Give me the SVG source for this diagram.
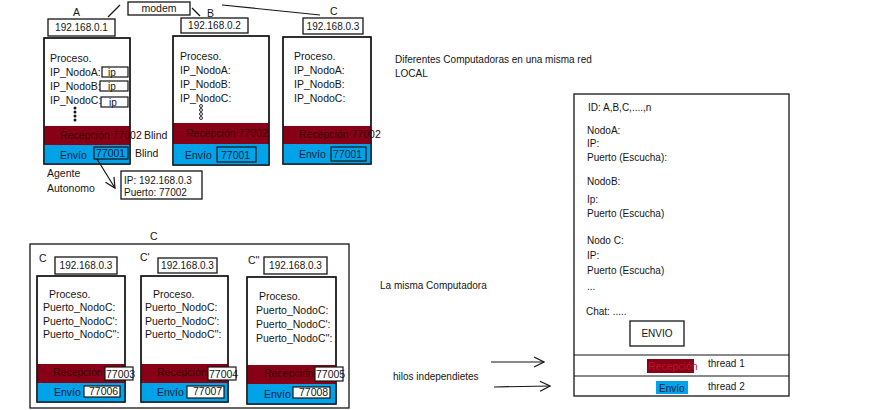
<svg xmlns="http://www.w3.org/2000/svg" width="875" height="410" viewBox="0 0 875 410">
<defs>
<style>
text{font-family:"Liberation Sans",Arial,sans-serif;font-size:10.5px;fill:#151515}
.box{fill:#fff;stroke:#151515;stroke-width:1.3}
.frame{fill:none;stroke:#151515;stroke-width:1.3}
.red{fill:#880015}
.blue{fill:#00A2E8}
.rt{fill:#3a0008}
.bt{fill:#0d2240}
.ip{font-size:10px}
.sm{font-size:10px}
.ln{stroke:#151515;stroke-width:1.2;fill:none}
.pb{fill:none;stroke:#151515;stroke-width:1.2}
.pw{fill:#fff;stroke:#151515;stroke-width:1.2}
</style>
<marker id="v" viewBox="0 0 12 12" refX="11" refY="6" markerWidth="12" markerHeight="12" markerUnits="userSpaceOnUse" orient="auto"><path d="M1,1 L11,6 L1,11" fill="none" stroke="#151515" stroke-width="1.2"/></marker>
</defs>
<rect width="875" height="410" fill="#fff"/>

<g id="modem">
<rect class="box" x="128" y="2" width="62" height="13"/>
<text x="159" y="12" text-anchor="middle" font-size="11">modem</text>
</g>

<g id="nodeA">
<text x="73" y="16">A</text>
<rect class="box" x="48" y="19" width="67" height="17"/>
<text class="ip" x="81.5" y="31" text-anchor="middle">192.168.0.1</text>
<rect class="box" x="44" y="38" width="86" height="126"/>
<rect class="red" x="44" y="126" width="86" height="19"/>
<rect class="blue" x="44" y="145" width="86" height="19"/>
<rect class="frame" x="44" y="38" width="86" height="126"/>
<text x="50" y="62">Proceso.</text>
<text x="50" y="76" font-size="10.2">IP_NodoA:</text>
<text x="50" y="90" font-size="10.2">IP_NodoB:</text>
<text x="50" y="104" font-size="10.2">IP_NodoC:</text>
<rect class="pb" x="102" y="67" width="26" height="10"/>
<text x="108" y="76" class="sm">ip</text>
<rect class="pb" x="100" y="81" width="28" height="10"/>
<text x="108" y="90" class="sm">ip</text>
<rect class="pb" x="101" y="97" width="27" height="10"/>
<text x="109" y="106" class="sm">ip</text>
<circle cx="75" cy="108" r="1.5" fill="#151515"/>
<circle cx="75" cy="112" r="1.5" fill="#151515"/>
<circle cx="75" cy="116" r="1.5" fill="#151515"/>
<circle cx="75" cy="120" r="1.5" fill="#151515"/>
<text class="rt" x="60" y="139" font-size="9.7">Recepción 77002</text>
<text x="144" y="139">Blind</text>
<text class="bt" x="60" y="159">Envío</text>
<rect class="pb" x="94" y="147" width="34" height="12"/>
<text class="bt" x="96" y="157" font-size="10">77001</text>
<text x="135" y="157">Blind</text>
<text x="47" y="177">Agente</text>
<text x="47" y="192">Autonomo</text>
</g>

<g id="agente">
<rect class="box" x="121" y="171" width="81" height="28"/>
<text x="124" y="184" class="sm">IP: 192.168.0.3</text>
<text x="124" y="196" class="sm">Puerto: 77002</text>
</g>

<g id="nodeB">
<text x="207" y="17">B</text>
<rect class="box" x="181" y="18" width="67" height="15"/>
<text class="ip" x="214.5" y="29" text-anchor="middle">192.168.0.2</text>
<rect class="box" x="173" y="36" width="96" height="129"/>
<rect class="red" x="173" y="123" width="96" height="21"/>
<rect class="blue" x="173" y="144" width="96" height="21"/>
<rect class="frame" x="173" y="36" width="96" height="129"/>
<text x="180" y="60">Proceso.</text>
<text x="180" y="74">IP_NodoA:</text>
<text x="180" y="88">IP_NodoB:</text>
<text x="180" y="102">IP_NodoC:</text>
<circle cx="201" cy="106" r="1.5" fill="none" stroke="#151515" stroke-width="0.9"/>
<circle cx="201" cy="110" r="1.5" fill="none" stroke="#151515" stroke-width="0.9"/>
<circle cx="201" cy="114" r="1.5" fill="none" stroke="#151515" stroke-width="0.9"/>
<circle cx="201" cy="118" r="1.5" fill="none" stroke="#151515" stroke-width="0.9"/>
<text class="rt" x="186" y="137" font-size="10">Recepción  77002</text>
<text class="bt" x="185" y="159">Envío</text>
<rect class="pb" x="217" y="147" width="39" height="15"/>
<text class="bt" x="221" y="158.5" font-size="10">77001</text>
</g>

<g id="nodeC">
<text x="330" y="15">C</text>
<rect class="box" x="303" y="18" width="60" height="16"/>
<text class="ip" x="333" y="30" text-anchor="middle">192.168.0.3</text>
<rect class="box" x="283" y="37" width="88" height="127"/>
<rect class="red" x="283" y="126" width="88" height="18"/>
<rect class="blue" x="283" y="144" width="88" height="20"/>
<rect class="frame" x="283" y="37" width="88" height="127"/>
<text x="294" y="60">Proceso.</text>
<text x="294" y="74">IP_NodoA:</text>
<text x="294" y="88">IP_NodoB:</text>
<text x="294" y="102">IP_NodoC:</text>
<text class="rt" x="299" y="138" font-size="10">Recepción  77002</text>
<text class="bt" x="299" y="158">Envío</text>
<rect class="pb" x="331" y="147" width="35" height="14"/>
<text class="bt" x="333" y="158" font-size="10">77001</text>
</g>

<g id="nota-red">
<text x="395" y="63" class="sm">Diferentes Computadoras en una misma red</text>
<text x="395" y="77" class="sm">LOCAL</text>
</g>

<g id="grupoC">
<text x="150" y="240">C</text>
<rect class="frame" x="30" y="244" width="319" height="164"/>
</g>

<g id="nodeC1">
<text x="39" y="262">C</text>
<rect class="box" x="55" y="257" width="62" height="17"/>
<text class="ip" x="86" y="269" text-anchor="middle">192.168.0.3</text>
<rect class="box" x="37" y="276" width="88" height="126"/>
<rect class="red" x="37" y="364" width="88" height="19"/>
<rect class="blue" x="37" y="383" width="88" height="19"/>
<rect class="frame" x="37" y="276" width="88" height="126"/>
<text x="49" y="298">Proceso.</text>
<text x="43" y="311">Puerto_NodoC:</text>
<text x="43" y="325">Puerto_NodoC':</text>
<text x="43" y="338">Puerto_NodoC'':</text>
<text class="rt" x="53" y="376">Recepción</text>
<rect class="pw" x="105" y="367" width="28" height="13"/>
<text x="106" y="377.5" font-size="9.5">77003</text>
<text class="bt" x="54" y="396">Envío</text>
<rect class="pw" x="84" y="386" width="36" height="11"/>
<text x="89" y="395" font-size="9.5">77006</text>
</g>

<g id="nodeC2">
<text x="140" y="261">C'</text>
<rect class="box" x="158" y="258" width="59" height="15"/>
<text class="ip" x="187.5" y="269" text-anchor="middle">192.168.0.3</text>
<rect class="box" x="141" y="276" width="87" height="126"/>
<rect class="red" x="141" y="364" width="87" height="19"/>
<rect class="blue" x="141" y="383" width="87" height="19"/>
<rect class="frame" x="141" y="276" width="87" height="126"/>
<text x="153" y="298">Proceso.</text>
<text x="145" y="311">Puerto_NodoC:</text>
<text x="145" y="325">Puerto_NodoC':</text>
<text x="145" y="338">Puerto_NodoC'':</text>
<text class="rt" x="157" y="376">Recepción</text>
<rect class="pw" x="208" y="367" width="28" height="13"/>
<text x="209" y="377.5" font-size="9.5">77004</text>
<text class="bt" x="157" y="396">Envío</text>
<rect class="pw" x="187" y="386" width="37" height="12"/>
<text x="193" y="395" font-size="9.5">77007</text>
</g>

<g id="nodeC3">
<text x="248" y="264">C''</text>
<rect class="box" x="264" y="257" width="63" height="17"/>
<text class="ip" x="295.5" y="269" text-anchor="middle">192.168.0.3</text>
<rect class="box" x="247" y="277" width="89" height="127"/>
<rect class="red" x="247" y="365" width="89" height="19"/>
<rect class="blue" x="247" y="384" width="89" height="20"/>
<rect class="frame" x="247" y="277" width="89" height="127"/>
<text x="259" y="300">Proceso.</text>
<text x="256" y="314">Puerto_NodoC:</text>
<text x="256" y="328">Puerto_NodoC':</text>
<text x="256" y="342">Puerto_NodoC'':</text>
<text class="rt" x="264" y="377">Recepción</text>
<rect class="pw" x="315" y="367" width="28" height="14"/>
<text x="316" y="378" font-size="9.5">77005</text>
<text class="bt" x="264" y="398">Envío</text>
<rect class="pw" x="293" y="387" width="37" height="11"/>
<text x="299" y="396" font-size="9.5">77008</text>
</g>

<g id="nota-misma">
<text x="380" y="289" class="sm">La misma Computadora</text>
<text x="393" y="380" class="sm">hilos independietes</text>
</g>

<g id="panel">
<rect class="box" x="574" y="94" width="215" height="302"/>
<line class="ln" x1="574" y1="355" x2="789" y2="355"/>
<line class="ln" x1="574" y1="376" x2="789" y2="376"/>
<text x="588" y="111" class="sm">ID: A,B,C,....,n</text>
<text x="587" y="134" class="sm">NodoA:</text>
<text x="587" y="147" class="sm">IP:</text>
<text x="587" y="161" class="sm">Puerto (Escucha):</text>
<text x="587" y="185" class="sm">NodoB:</text>
<text x="587" y="203" class="sm">Ip:</text>
<text x="587" y="217" class="sm">Puerto (Escucha)</text>
<text x="587" y="244" class="sm">Nodo C:</text>
<text x="587" y="259" class="sm">IP:</text>
<text x="587" y="274" class="sm">Puerto (Escucha)</text>
<text x="587" y="290" class="sm">...</text>
<text x="586" y="315" class="sm">Chat: .....</text>
<rect class="box" x="630" y="321" width="54" height="25"/>
<text x="657" y="337" class="sm" text-anchor="middle">ENVIO</text>
<rect class="red" x="647" y="359" width="47" height="14"/>
<text x="648" y="370" font-size="9.4" style="fill:#c0102a">Recepción</text>
<text x="708" y="367" class="sm">thread 1</text>
<rect class="blue" x="656" y="381" width="32" height="13"/>
<text x="659" y="392" class="sm" style="fill:#0d2240">Envío</text>
<text x="708" y="390" class="sm">thread 2</text>
</g>

<g id="connectors">
<line class="ln" x1="108" y1="17" x2="120" y2="5"/>
<line class="ln" x1="192" y1="8" x2="200" y2="16"/>
<line class="ln" x1="222" y1="5" x2="320" y2="15"/>
<line class="ln" x1="97" y1="159" x2="115" y2="188" marker-end="url(#v)"/>
<line class="ln" x1="491" y1="362" x2="544" y2="362" marker-end="url(#v)"/>
<line class="ln" x1="494" y1="387" x2="550" y2="386" marker-end="url(#v)"/>
</g>
</svg>
